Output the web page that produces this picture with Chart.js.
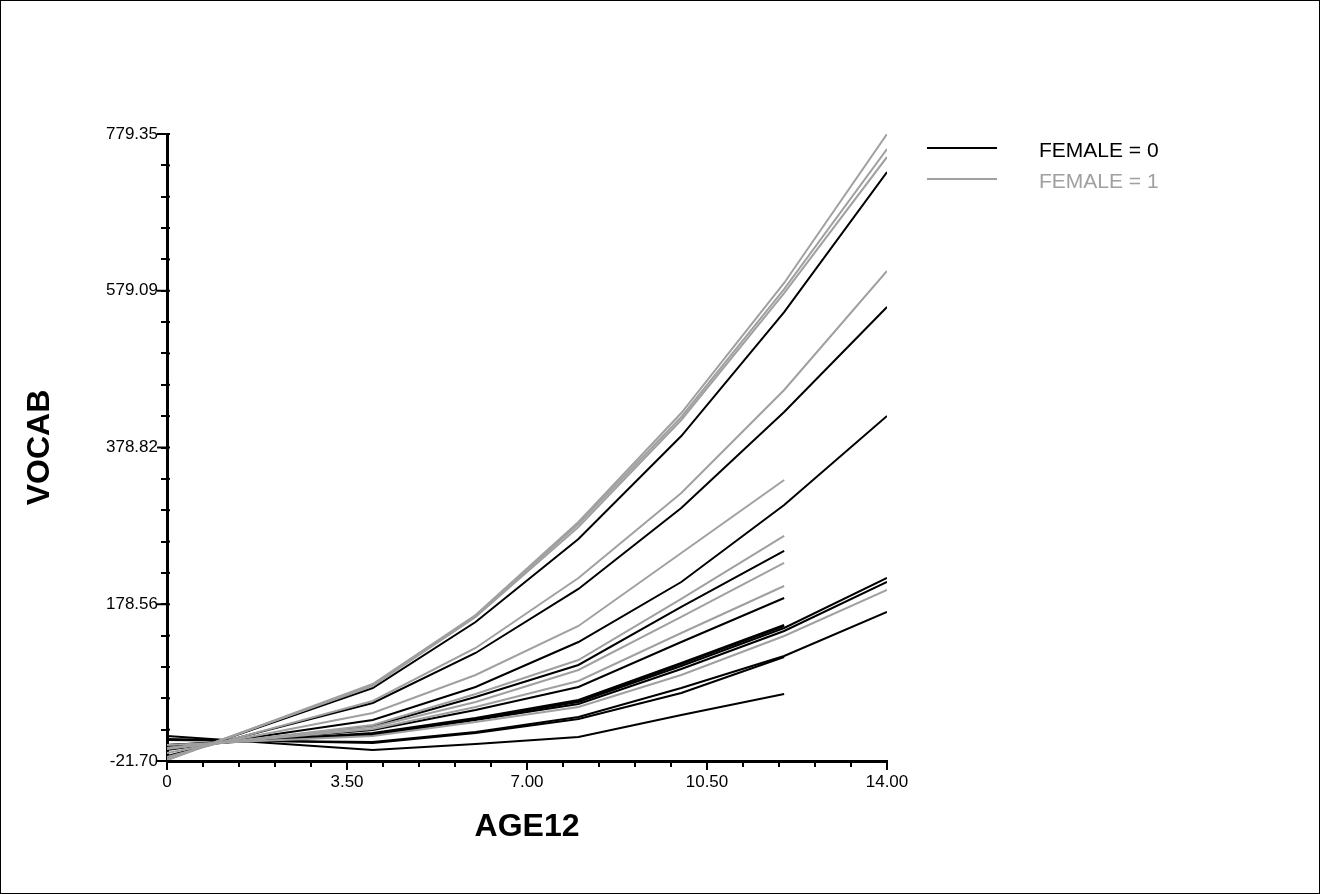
<!DOCTYPE html>
<html>
<head>
<meta charset="utf-8">
<title>VOCAB by AGE12</title>
<script src="https://cdn.jsdelivr.net/npm/chart.js@4.4.1/dist/chart.umd.min.js"></script>
<style>
	html, body { margin: 0; padding: 0; background: #fff; }
	#wrap { position: relative; width: 1320px; height: 894px; }
	#frame { position: absolute; left: 0; top: 0; width: 1320px; height: 894px; box-sizing: border-box; border: 1px solid #000; }
	#vocabChart { position: absolute; left: 0; top: 0; }
	.swatch { position: absolute; left: 927px; width: 70px; height: 2px; }
	.label { position: absolute; left: 1039px; font-family: "Liberation Sans", Arial, sans-serif; font-size: 21px; line-height: 24px; white-space: nowrap; }
</style>
</head>
<body>
<div id="wrap">
	<div id="frame"></div>
	<canvas id="vocabChart" width="1320" height="894"></canvas>
	<div id="legend"></div>
</div>
<script>
const age12 = [0, 4, 6, 8, 10, 12, 14];
const xTickLabels = ['0', '3.50', '7.00', '10.50', '14.00'];
const yTickLabels = ['-21.70', '178.56', '378.82', '579.09', '779.35'];
const minorPerMajor = 5;
const groupLabels = ['FEMALE = 0', 'FEMALE = 1'];
const groupColors = ['#000000', '#a0a0a0'];

// FEMALE = 0 (one array per child, VOCAB at each AGE12)
const boy01 = [-19.1, 71.6, 155.9, 261.9, 393.5, 551.9, 730.8];
const boy02 = [-15.3, 52.4, 116.3, 198.1, 301.5, 424.2, 558.3];
const boy03 = [-7.7, 30.7, 72.8, 130.3, 207.0, 305.4, 419.1];
const boy04 = [-6.4, 23.0, 60.1, 101.0, 175.1, 246.6];
const boy05 = [-3.8, 17.9, 43.5, 72.8, 130.3, 186.6];
const boy06 = [-2.5, 14.1, 33.2, 56.2, 103.5, 152.1];
const boy07 = [-2.5, 12.8, 32.0, 55.0, 102.2, 150.8];
const boy08 = [-1.3, 12.8, 32.0, 53.7, 99.7, 148.2, 212.1];
const boy09 = [-1.3, 11.5, 30.7, 51.1, 95.8, 144.4, 207.0];
const boy10 = [6.4, 1.3, 14.1, 32.0, 65.2, 111.2];
const boy11 = [5.1, 2.6, 15.4, 34.5, 71.6, 112.5, 168.7];
const boy12 = [10.2, -7.7, 0.0, 9.0, 37.1, 63.9];

// FEMALE = 1
const girl01 = [-20.4, 76.7, 164.8, 283.6, 422.9, 589.0, 779.3];
const girl02 = [-20.4, 75.4, 163.6, 281.1, 417.8, 581.3, 760.2];
const girl03 = [-19.1, 74.1, 162.3, 277.3, 414.0, 576.2, 750.0];
const girl04 = [-16.6, 55.0, 122.7, 212.1, 320.7, 452.3, 604.3];
const girl05 = [-11.5, 39.6, 88.2, 150.8, 244.0, 337.3];
const girl06 = [-6.4, 24.3, 63.9, 107.3, 185.3, 265.8];
const girl07 = [-5.1, 21.7, 53.7, 94.6, 162.3, 231.3];
const girl08 = [-5.1, 19.2, 47.3, 80.5, 141.8, 201.9];
const girl09 = [-1.3, 10.2, 28.1, 47.3, 88.2, 138.0, 196.8];

const boys = [boy01, boy02, boy03, boy04, boy05, boy06, boy07, boy08, boy09, boy10, boy11, boy12];
const girls = [girl01, girl02, girl03, girl04, girl05, girl06, girl07, girl08, girl09];

function toPoints(values) {
	return values.map((v, i) => ({ x: age12[i], y: v }));
}

function buildTicks(labels) {
	const majors = labels.map(Number);
	const step = (majors[1] - majors[0]) / minorPerMajor;
	const ticks = [];
	for (let m = 0; m < majors.length; m++) {
		ticks.push({ value: majors[m] });
		if (m < majors.length - 1) {
			for (let k = 1; k < minorPerMajor; k++) {
				ticks.push({ value: majors[m] + k * step });
			}
		}
	}
	return ticks;
}

function tickLabel(labels) {
	return (value, index) => (index % minorPerMajor === 0 ? labels[index / minorPerMajor] : '');
}

// longer marks at the labelled ticks
const majorTickMarks = {
	id: 'majorTickMarks',
	afterDraw(chart) {
		const ctx = chart.ctx;
		const area = chart.chartArea;
		ctx.save();
		ctx.strokeStyle = '#000';
		ctx.lineWidth = 2;
		chart.scales.x.ticks.forEach((t, i) => {
			if (i % minorPerMajor) return;
			const px = chart.scales.x.getPixelForValue(t.value);
			ctx.beginPath();
			ctx.moveTo(px, area.bottom);
			ctx.lineTo(px, area.bottom + 9);
			ctx.stroke();
		});
		chart.scales.y.ticks.forEach((t, i) => {
			const py = chart.scales.y.getPixelForValue(t.value);
			const len = i % minorPerMajor ? 0 : 10;
			ctx.beginPath();
			ctx.moveTo(area.left - len, py);
			ctx.lineTo(area.left + 3, py);
			ctx.stroke();
		});
		ctx.restore();
	}
};

const datasets = [];
girls.forEach(vals => {
	datasets.push({ data: toPoints(vals), borderColor: groupColors[1], borderWidth: 2, pointRadius: 0, tension: 0, fill: false });
});
boys.forEach(vals => {
	datasets.push({ data: toPoints(vals), borderColor: groupColors[0], borderWidth: 2, pointRadius: 0, tension: 0, fill: false });
});

const tickFont = { family: 'Liberation Sans', size: 17 };
const titleFont = { family: 'Liberation Sans', size: 32, weight: 'bold' };
const axisGrid = { display: true, drawOnChartArea: false, drawTicks: true, tickLength: 6, color: '#000', lineWidth: 2 };
const axisBorder = { display: true, color: '#000', width: 3 };

new Chart(document.getElementById('vocabChart'), {
	type: 'line',
	data: { datasets: datasets },
	plugins: [majorTickMarks],
	options: {
		responsive: false,
		animation: false,
		devicePixelRatio: 1,
		layout: { padding: { left: 0, top: 134, right: 433, bottom: 0 } },
		plugins: { legend: { display: false }, tooltip: { enabled: false } },
		scales: {
			x: {
				type: 'linear',
				min: Number(xTickLabels[0]),
				max: Number(xTickLabels[xTickLabels.length - 1]),
				afterBuildTicks: scale => { scale.ticks = buildTicks(xTickLabels); },
				afterFit: scale => { scale.height = 133; },
				ticks: { callback: tickLabel(xTickLabels), font: tickFont, color: '#000', maxRotation: 0, autoSkip: false, padding: 5 },
				grid: axisGrid,
				border: axisBorder,
				title: { display: true, text: 'AGE12', font: titleFont, color: '#000', padding: { top: 0, bottom: 48 } }
			},
			y: {
				type: 'linear',
				min: Number(yTickLabels[0]),
				max: Number(yTickLabels[yTickLabels.length - 1]),
				afterBuildTicks: scale => { scale.ticks = buildTicks(yTickLabels); },
				afterFit: scale => { scale.width = 167; },
				ticks: { callback: tickLabel(yTickLabels), font: tickFont, color: '#000', autoSkip: false, padding: 3 },
				grid: axisGrid,
				border: axisBorder,
				title: { display: true, text: 'VOCAB', font: titleFont, color: '#000', padding: { top: 21, bottom: 0 } }
			}
		}
	}
});

// legend, top right of the plot
const legendEl = document.getElementById('legend');
groupLabels.forEach((text, i) => {
	const lineY = 148 + 31 * i;
	const sw = document.createElement('div');
	sw.className = 'swatch';
	sw.style.top = (lineY - 1) + 'px';
	sw.style.background = groupColors[i];
	legendEl.appendChild(sw);
	const lb = document.createElement('div');
	lb.className = 'label';
	lb.style.top = (lineY - 10) + 'px';
	lb.style.color = groupColors[i];
	lb.textContent = text;
	legendEl.appendChild(lb);
});
</script>
</body>
</html>
